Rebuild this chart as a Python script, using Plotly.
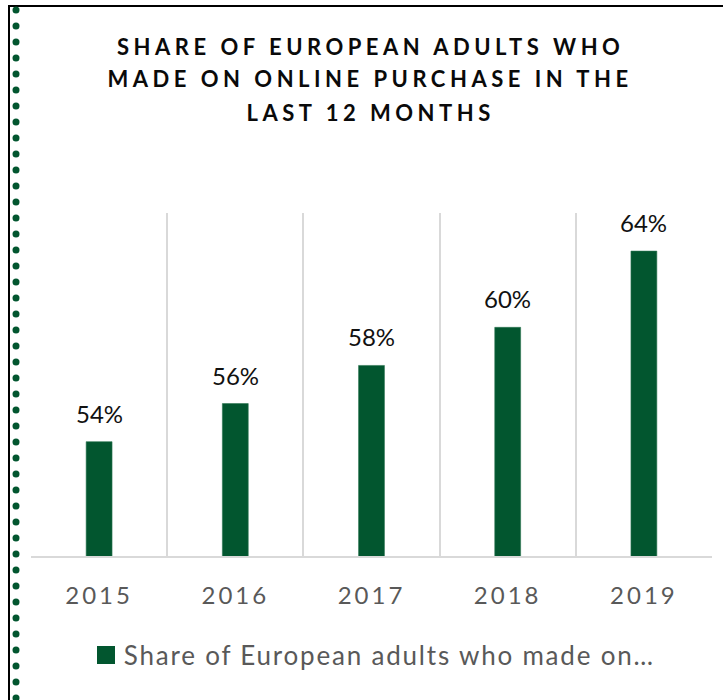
import plotly.graph_objects as go

years = ["2015", "2016", "2017", "2018", "2019"]
shares = [0.54, 0.56, 0.58, 0.60, 0.64]
series_name = "Share of European adults who made on…"
title_lines = ["SHARE OF EUROPEAN ADULTS WHO", "MADE ON ONLINE PURCHASE IN THE", "LAST 12 MONTHS"]

W, H = 723, 700
L, R, T, B = 31, 11, 213, 144
PW, PH = W - L - R, H - T - B

def px(x):
    return (x - L) / PW

def py(y):
    return (H - B - y) / PH

GREEN = "#02562F"
FONT = "Lato"

fig = go.Figure()
fig.add_trace(go.Bar(
    x=years, y=shares, name=series_name, width=0.19,
    marker=dict(color=GREEN, line=dict(color="#2E7553", width=0.6)),
    showlegend=False,
))

annotations = []
for i, v in enumerate(shares):
    annotations.append(dict(
        x=i, y=v, xref="x", yref="y", text=f"{round(v*100)}%",
        showarrow=False, yanchor="bottom", yshift=12,
        font=dict(family=FONT, size=24, color="#111111"),
    ))
for line, yc in zip(title_lines, [46, 79, 112]):
    annotations.append(dict(
        x=px(370), y=py(yc), xref="paper", yref="paper", text=f"<b>{line}</b>",
        showarrow=False, xanchor="center", yanchor="middle",
        font=dict(family=FONT, size=22, color="#0A0A0A"),
    ))
# legend (drawn manually for exact symbol size)
annotations.append(dict(
    x=px(389), y=py(655), xref="paper", yref="paper", text=series_name,
    showarrow=False, xanchor="center", yanchor="middle",
    font=dict(family=FONT, size=26, color="#595959"),
))

shapes = [
    dict(type="line", xref="paper", yref="paper", x0=px(9), x1=px(9), y0=py(5), y1=py(702),
         line=dict(color="#000000", width=2)),
    dict(type="line", xref="paper", yref="paper", x0=px(8), x1=px(724), y0=py(6), y1=py(6),
         line=dict(color="#000000", width=2)),
    dict(type="rect", xref="paper", yref="paper", x0=px(97), x1=px(115), y0=py(664), y1=py(646),
         fillcolor=GREEN, line=dict(width=0)),
]
for k in range(44):
    yy = 10 + 16 * k
    yc = py(yy)
    shapes.append(dict(type="circle", xref="paper", yref="paper",
                       x0=px(12.5), x1=px(19.5), y0=yc - 3.5 / PH, y1=yc + 3.5 / PH,
                       fillcolor=GREEN, line=dict(width=0)))

fig.update_layout(
    width=W, height=H,
    margin=dict(l=L, r=R, t=T, b=B, pad=0),
    paper_bgcolor="white", plot_bgcolor="white",
    showlegend=False,
    xaxis=dict(type="category", categoryorder="array", categoryarray=years,
               range=[-0.5, 4.5], autorange=False,
               tickson="boundaries", showgrid=True,
               gridcolor="#D9D9D9", gridwidth=1.5, showline=True,
               linecolor="#D9D9D9", linewidth=1.5, ticks="", tickangle=0,
               tickfont=dict(family=FONT, size=24, color="#595959"),
               ticklabelstandoff=17, zeroline=False),
    yaxis=dict(range=[0.48, 0.66], autorange=False, visible=False, showgrid=False, zeroline=False),
    annotations=annotations,
    shapes=shapes,
)

post = """
var gd = document.getElementsByClassName('plotly-graph-div')[0];
gd.querySelectorAll('.annotation-text').forEach(function(t){
  var s = t.textContent;
  if (s === s.toUpperCase() && s.length > 8) t.style.letterSpacing = '4.5px';
  if (s.indexOf('Share of') === 0) t.style.letterSpacing = '1.8px';
});
gd.querySelectorAll('.xtick text').forEach(function(t){ t.style.letterSpacing = '3px'; });
"""
fig.write_html("out.html", post_script=post)
